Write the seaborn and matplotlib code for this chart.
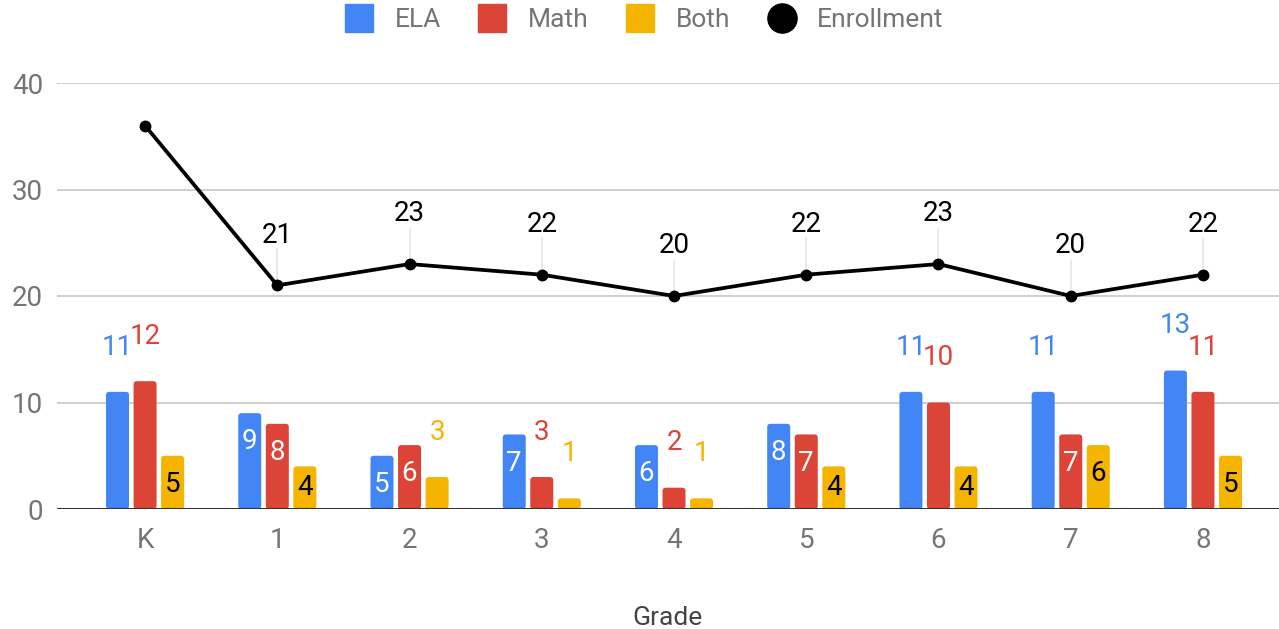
import matplotlib
matplotlib.use("Agg")
import matplotlib.pyplot as plt
from matplotlib.lines import Line2D
from matplotlib.patches import FancyBboxPatch
import seaborn as sns
import pandas as pd

# data
GRADES = ["K", "1", "2", "3", "4", "5", "6", "7", "8"]
SUBJECTS = ["ELA", "Math", "Both"]
ELA = [11, 9, 5, 7, 6, 8, 11, 11, 13]
MATH = [12, 8, 6, 3, 2, 7, 10, 7, 11]
BOTH = [5, 4, 3, 1, 1, 4, 4, 6, 5]
ENROLLMENT = [36, 21, 23, 22, 20, 22, 23, 20, 22]

COLORS = {"ELA": "#4285F4", "Math": "#DB4437", "Both": "#F4B400"}
INSIDE_TEXT = {"ELA": "white", "Math": "white", "Both": "black"}
TICK_COLOR = "#757575"
FONT_SIZE = 20

sns.set_style("white")
plt.rcParams['font.family'] = ['Roboto', 'DejaVu Sans']

df = pd.DataFrame({
    "Grade": GRADES * 3,
    "Subject": sum([[s] * len(GRADES) for s in SUBJECTS], []),
    "Count": ELA + MATH + BOTH,
})

fig = plt.figure(figsize=(12.79, 6.29), dpi=100)
ax = fig.add_axes([57 / 1279, 1 - 509 / 629, 1 - 57 / 1279, (509 - 83) / 629])

sns.barplot(data=df, x="Grade", y="Count", hue="Subject", hue_order=SUBJECTS,
            order=GRADES, palette=COLORS, saturation=1, width=0.625, gap=0.165,
            legend=False, ax=ax, zorder=3)

# swap plain rectangles for slightly rounded ones
for container in ax.containers:
    for bar in container:
        bar.set_visible(False)
        rounded = FancyBboxPatch((bar.get_x(), 0), bar.get_width(), bar.get_height(),
                                 boxstyle="round,pad=0,rounding_size=0.025",
                                 mutation_aspect=12.4, facecolor=bar.get_facecolor(),
                                 edgecolor="none", zorder=3)
        ax.add_patch(rounded)

# bar value labels: inside for short single digits, above otherwise
for subject, container in zip(SUBJECTS, ax.containers):
    for bar in container:
        v = bar.get_height()
        cx = bar.get_x() + bar.get_width() / 2
        if 4 <= v < 10:
            ax.text(cx, max(v - 2.7, 2.0), f"{v:.0f}", ha="center", va="center",
                    fontsize=FONT_SIZE, color=INSIDE_TEXT[subject], zorder=5)
        else:
            ax.text(cx, v + 4.2, f"{v:.0f}", ha="center", va="center",
                    fontsize=FONT_SIZE, color=COLORS[subject], zorder=5)

# enrollment line
sns.pointplot(x=GRADES, y=ENROLLMENT, order=GRADES, color="black", ax=ax,
              markersize=6.5, linewidth=2.7, zorder=6)

for i, v in enumerate(ENROLLMENT):
    if i == 0:
        continue  # top label is dropped in the original
    ax.plot([i, i], [v, v + 3.4], color="#e6e6e6", lw=1.2, zorder=2)
    ax.text(i, v + 4.7, str(v), ha="center", va="center",
            fontsize=FONT_SIZE, color="black", zorder=5)

ax.set_ylim(0, 40)
ax.set_xlim(-0.666, 8.575)
ax.set_yticks([0, 10, 20, 30, 40])
ax.yaxis.grid(True, color="#cccccc", lw=1.3, zorder=0)
ax.xaxis.grid(False)
ax.axhline(0, color="#333333", lw=2.2, zorder=4)
for side in ["top", "right", "left", "bottom"]:
    ax.spines[side].set_visible(False)

ax.tick_params(axis="both", length=0, labelsize=FONT_SIZE, colors=TICK_COLOR)
ax.tick_params(axis="y", pad=10)
ax.tick_params(axis="x", pad=13)
ax.set_ylabel("")
ax.set_xlabel("Grade", fontsize=19, color="#444444", va="center")
ax.xaxis.set_label_coords(0.5, -109 / 426)

handles = [Line2D([], [], marker="s", ms=20, color=COLORS[s], linestyle="") for s in SUBJECTS]
handles.append(Line2D([], [], marker="o", ms=21, color="black", linestyle=""))
leg = fig.legend(handles, SUBJECTS + ["Enrollment"], loc="center",
                 bbox_to_anchor=(0.503, 0.968), ncol=4, frameon=False,
                 fontsize=19, handlelength=1.2, handletextpad=0.75, columnspacing=1.35)
for t in leg.get_texts():
    t.set_color(TICK_COLOR)

fig.savefig("out.png", dpi=100, facecolor="white")
